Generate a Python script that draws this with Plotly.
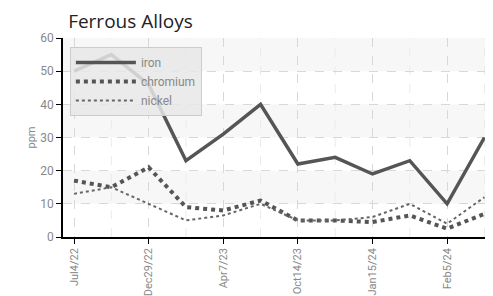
import plotly.graph_objects as go

dates = ["Jul4/22", "Sep20/22", "Dec29/22", "Feb14/23", "Apr7/23", "Jul12/23",
         "Oct14/23", "Dec2/23", "Jan15/24", "Jan26/24", "Feb5/24", "Mar4/24"]
tick_labels = ["Jul4/22", "Dec29/22", "Apr7/23", "Oct14/23", "Jan15/24", "Feb5/24"]
iron = [50, 55, 46, 23, 31, 40, 22, 24, 19, 23, 10, 30]
chromium = [17, 15, 21, 9, 8, 11, 5, 5, 4.5, 6.5, 2.5, 7]
nickel = [13, 15, 10, 5, 6.5, 10, 5, 5, 6, 10, 4, 12]
y_ticks = [0, 10, 20, 30, 40, 50, 60]

line_col = "#555555"
font_fam = "Roboto, DejaVu Sans"

fig = go.Figure()
fig.add_trace(go.Scatter(x=dates, y=iron, name="iron", mode="lines",
                         line=dict(color=line_col, width=3.5)))
fig.add_trace(go.Scatter(x=dates, y=chromium, name="chromium", mode="lines",
                         line=dict(color=line_col, width=4, dash="dot")))
fig.add_trace(go.Scatter(x=dates, y=nickel, name="nickel", mode="lines",
                         line=dict(color="#666666", width=2, dash="dot")))

# alternating bands
for lo, hi in [(10, 20), (30, 40), (50, 60)]:
    fig.add_shape(type="rect", xref="paper", yref="y", x0=0, x1=1, y0=lo, y1=hi,
                  fillcolor="#f7f7f7", line_width=0, layer="below")
# minor vertical grid lines at unlabeled categories
for d in dates:
    if d not in tick_labels:
        fig.add_shape(type="line", xref="x", yref="paper", x0=d, x1=d, y0=0, y1=1,
                      line=dict(color="#ebebeb", width=1, dash="dash"), layer="below")

# page body has an 8px default margin, so the figure is 8px smaller on each axis
fig.update_layout(
    width=485, height=288,
    margin=dict(l=55, r=0, t=30, b=59, autoexpand=False),
    paper_bgcolor="white", plot_bgcolor="white",
    title=dict(text="Ferrous Alloys", x=0.124, xref="container", xanchor="left",
               y=0.953, yanchor="middle",
               font=dict(family="Open Sans, DejaVu Sans", size=19, color="#222")),
    showlegend=True,
    legend=dict(x=0.016, y=0.955, xanchor="left", yanchor="top",
                bgcolor="rgba(232,232,232,0.85)", bordercolor="#cccccc", borderwidth=1,
                font=dict(family=font_fam, size=12, color="#888888"),
                itemwidth=60, tracegroupgap=0),
    xaxis=dict(type="category", categoryorder="array", categoryarray=dates,
               range=[-0.295, 11.23], tickmode="array", tickvals=tick_labels,
               ticktext=tick_labels, tickangle=-90, showline=True, linecolor="black",
               linewidth=1.5, ticks="outside", ticklen=5, tickcolor="black",
               showgrid=True, gridcolor="#d8d8d8", griddash="dash", zeroline=False,
               automargin=False,
               tickfont=dict(family=font_fam, size=11, color="#888888")),
    yaxis=dict(range=[0, 60], tickmode="array", tickvals=y_ticks, showline=True,
               linecolor="black", linewidth=1.5, ticks="outside", ticklen=5,
               tickcolor="black", showgrid=True, gridcolor="#d8d8d8", griddash="dash",
               zeroline=False, automargin=False,
               title=dict(text="ppm", font=dict(family=font_fam, size=11, color="#888888"),
                          standoff=2),
               tickfont=dict(family=font_fam, size=12, color="#888888")),
)

fig.write_html("out.html")
